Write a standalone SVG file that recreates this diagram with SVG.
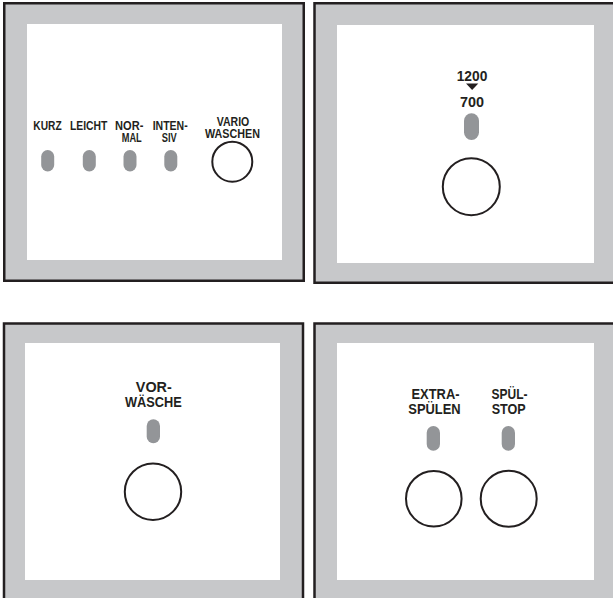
<svg xmlns="http://www.w3.org/2000/svg" width="613" height="598" viewBox="0 0 613 598">
<style>
.frame{fill:#c7c8ca;stroke:#231f20;stroke-width:2.5}
.face{fill:#ffffff}
.led{fill:#939598}
.btn{fill:#ffffff;stroke:#231f20;stroke-width:2}
text{font-family:"Liberation Sans",Arial,sans-serif;font-weight:bold;fill:#231f20;text-anchor:middle}
.s1{font-size:12.5px}
.s2{font-size:14.8px}
.s3{font-size:15px}
</style>
<rect width="613" height="598" fill="#ffffff"/>
<g id="panel-waschen">
<rect class="frame" x="4.25" y="3.25" width="299.5" height="277.5"/>
<rect class="face" x="27" y="24" width="255" height="236"/>
<text class="s1" x="47.5" y="129.5" textLength="28.3" lengthAdjust="spacingAndGlyphs">KURZ</text>
<text class="s1" x="88.7" y="129.5" textLength="37.3" lengthAdjust="spacingAndGlyphs">LEICHT</text>
<text class="s1" x="129.2" y="129.5" textLength="28.3" lengthAdjust="spacingAndGlyphs">NOR-</text>
<text class="s1" x="131.7" y="142.2" textLength="20" lengthAdjust="spacingAndGlyphs">MAL</text>
<text class="s1" x="170.2" y="129.5" textLength="35" lengthAdjust="spacingAndGlyphs">INTEN-</text>
<text class="s1" x="169.2" y="142.2" textLength="15" lengthAdjust="spacingAndGlyphs">SIV</text>
<text class="s1" x="233" y="125.7" textLength="32.6" lengthAdjust="spacingAndGlyphs">VARIO</text>
<text class="s1" x="232.5" y="137.7" textLength="55" lengthAdjust="spacingAndGlyphs">WASCHEN</text>
<rect class="led" x="41.2" y="150" width="13" height="21.5" rx="6.5"/>
<rect class="led" x="82.8" y="150" width="13" height="21.5" rx="6.5"/>
<rect class="led" x="123.5" y="150" width="13" height="21.5" rx="6.5"/>
<rect class="led" x="164.3" y="150" width="13" height="21.5" rx="6.5"/>
<circle class="btn" cx="232.3" cy="161.7" r="20"/>
</g>
<g id="panel-schleudern">
<rect class="frame" x="314.5" y="3.25" width="310" height="279.5"/>
<rect class="face" x="337" y="25" width="257" height="238"/>
<text class="s3" x="472" y="80.7" textLength="30.6" lengthAdjust="spacingAndGlyphs">1200</text>
<polygon points="466,83.5 478.3,83.5 472.15,90" fill="#231f20"/>
<text class="s3" x="472" y="107.3" textLength="24" lengthAdjust="spacingAndGlyphs">700</text>
<rect class="led" x="464" y="113.3" width="15" height="26.7" rx="7.5"/>
<circle class="btn" cx="471.3" cy="186.7" r="28.5"/>
</g>
<g id="panel-vorwaesche">
<rect class="frame" x="4" y="323.5" width="299" height="300"/>
<rect class="face" x="25" y="343" width="255" height="237"/>
<text class="s2" x="153.8" y="391.5" textLength="36" lengthAdjust="spacingAndGlyphs">VOR-</text>
<text class="s2" x="153.3" y="406.7" textLength="56.7" lengthAdjust="spacingAndGlyphs">WÄSCHE</text>
<rect class="led" x="146.7" y="419.3" width="13.3" height="24" rx="6.65"/>
<circle class="btn" cx="153" cy="491.7" r="28.2"/>
</g>
<g id="panel-spuelen">
<rect class="frame" x="314.5" y="323.5" width="310" height="300"/>
<rect class="face" x="337" y="343" width="257" height="237"/>
<text class="s2" x="435.5" y="399" textLength="48" lengthAdjust="spacingAndGlyphs">EXTRA-</text>
<text class="s2" x="434.5" y="414" textLength="52.4" lengthAdjust="spacingAndGlyphs">SPÜLEN</text>
<text class="s2" x="509.5" y="399" textLength="36" lengthAdjust="spacingAndGlyphs">SPÜL-</text>
<text class="s2" x="508.7" y="414" textLength="34" lengthAdjust="spacingAndGlyphs">STOP</text>
<rect class="led" x="426.7" y="426" width="13.3" height="24.7" rx="6.65"/>
<rect class="led" x="501.7" y="426" width="13.3" height="24.7" rx="6.65"/>
<circle class="btn" cx="433.8" cy="498.7" r="27.8"/>
<circle class="btn" cx="508.7" cy="498.7" r="28"/>
</g>
<g id="connectors"></g>
</svg>
